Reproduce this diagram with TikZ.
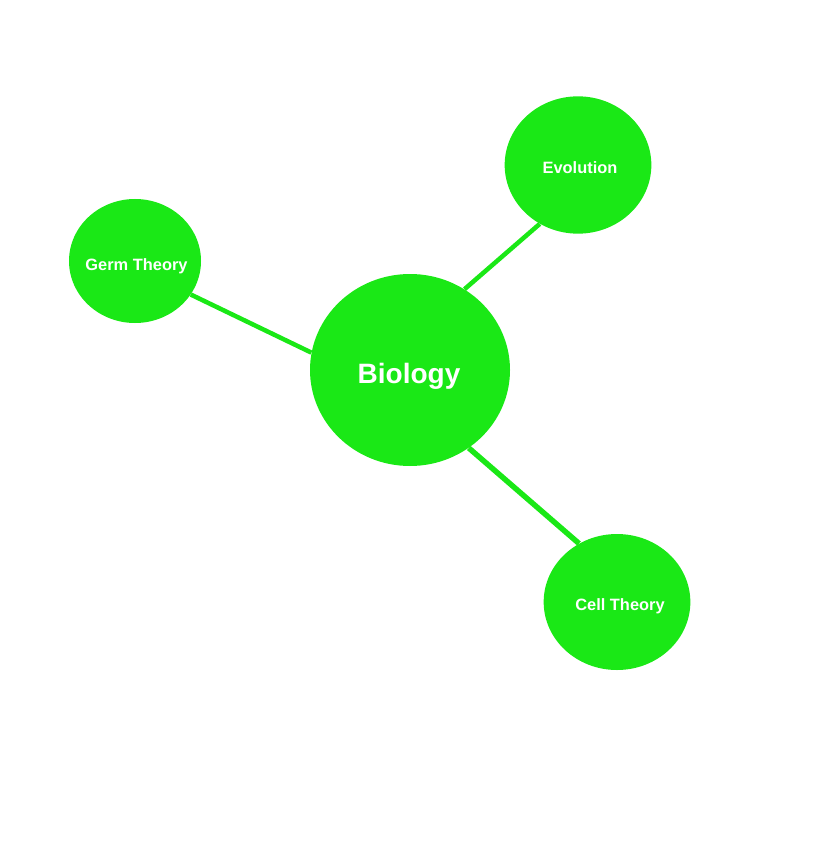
\documentclass[tikz,border=0pt]{standalone}
\usepackage{fontspec}
\setmainfont{Liberation Sans}
\usetikzlibrary{shapes.geometric}
\definecolor{leaf}{RGB}{26,232,22}

\tikzset{
  topic/.style={ellipse, fill=leaf, inner sep=0pt},
  caption/.style={text=white, font=\bfseries\fontsize{12.3}{14}\selectfont, inner sep=0pt, text height=8.8pt, text depth=0pt},
  link/.style={leaf, line width=3.4pt}
}

\begin{document}
\begin{tikzpicture}[x=0.75pt, y=-0.75pt]
      \useasboundingbox (0,0) rectangle (824,859);
      \node[topic, minimum width=150pt, minimum height=144pt] (bio) at (410,370) {};
      \node[topic, minimum width=110pt, minimum height=103pt] (evo) at (578,165) {};
      \node[topic, minimum width=99pt, minimum height=93pt] (germ) at (135,261) {};
      \node[topic, minimum width=110pt, minimum height=102pt] (cell) at (617,602) {};
      % texts
      \node[caption, font=\bfseries\fontsize{21}{24}\selectfont, text height=15pt] (biotext) at ([shift={(-1,3.5)}]bio.center) {Biology};
      \node[caption] (evotext) at ([shift={(2,3)}]evo.center) {Evolution};
      \node[caption] (germtext) at ([shift={(1.5,4)}]germ.center) {Germ Theory};
      \node[caption] (celltext) at ([shift={(3,3)}]cell.center) {Cell Theory};
      % links
      \draw[link] (bio.56.5) -- (evo.-123.7);
      \draw[link] (bio.170.2) -- (germ.-31.7);
      \draw[link, line width=4.1pt] (bio.-53.4) -- (cell.123.5);
    \end{tikzpicture}
\end{document}
